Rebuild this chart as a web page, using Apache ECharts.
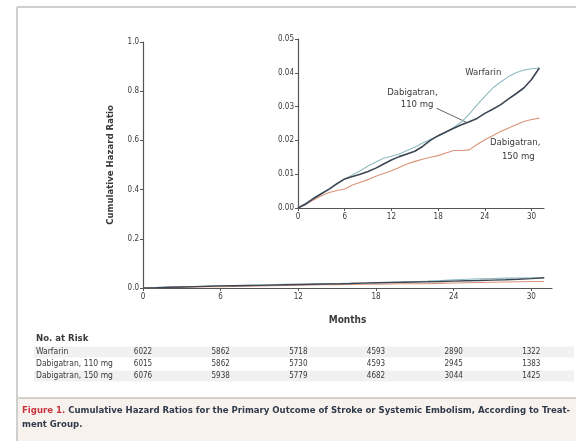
<!DOCTYPE html>
<html>
<head>
<meta charset="utf-8">
<script src="https://cdn.jsdelivr.net/npm/echarts@6/dist/echarts.min.js"></script>
<style>
  html, body { margin: 0; padding: 0; background: #ffffff; }
  #chart { width: 576px; height: 441px; }
</style>
</head>
<body>
<div id="chart"></div>
<script>
// Follow-up month for each reading
const months = [0, 1, 2, 3, 4, 5, 6, 7, 8, 9, 10, 11, 12, 13, 14, 15, 16, 17, 18, 19, 20, 21, 22, 23, 24, 25, 26, 27, 28, 29, 30, 31];

// Cumulative hazard by treatment group
const warfarin = [0, 0.0014, 0.0030, 0.0043, 0.0056, 0.0070, 0.0086, 0.0098, 0.0110, 0.0124, 0.0136, 0.0147, 0.0153, 0.0160, 0.0170, 0.0180, 0.0192, 0.0203, 0.0212, 0.0225, 0.0238, 0.0255, 0.0278, 0.0305, 0.0330, 0.0355, 0.0372, 0.0388, 0.0400, 0.0408, 0.0412, 0.0414];
const dabi110 = [0, 0.0012, 0.0028, 0.0042, 0.0056, 0.0072, 0.0086, 0.0093, 0.0100, 0.0108, 0.0118, 0.0130, 0.0142, 0.0152, 0.0160, 0.0168, 0.0182, 0.0200, 0.0214, 0.0225, 0.0236, 0.0246, 0.0255, 0.0265, 0.0280, 0.0292, 0.0305, 0.0322, 0.0338, 0.0355, 0.0380, 0.0414];
const dabi150 = [0, 0.0010, 0.0024, 0.0036, 0.0046, 0.0052, 0.0056, 0.0068, 0.0076, 0.0084, 0.0094, 0.0102, 0.0110, 0.0120, 0.0130, 0.0138, 0.0144, 0.0150, 0.0155, 0.0163, 0.0170, 0.0170, 0.0172, 0.0188, 0.0202, 0.0214, 0.0226, 0.0236, 0.0246, 0.0256, 0.0262, 0.0266];

// Number at risk table
const riskMonths = [0, 6, 12, 18, 24, 30];
const riskGroups = ['Warfarin', 'Dabigatran, 110 mg', 'Dabigatran, 150 mg'];
const riskCounts = [
  [6022, 5862, 5718, 4593, 2890, 1322],
  [6015, 5862, 5730, 4593, 2945, 1383],
  [6076, 5938, 5779, 4682, 3044, 1425]
];

// Axis ticks
const xTicks = [0, 6, 12, 18, 24, 30];

const FONT = '"Liberation Sans Narrow", "DejaVu Sans Condensed", "Liberation Sans", sans-serif';
const INK = '#3a3a3a';
const C_WAR = '#8fbcc0';
const C_110 = '#3d4654';
const C_150 = '#d99478';

function pairs(ys) { return months.map((m, i) => [m, ys[i]]); }

const chart = echarts.init(document.getElementById('chart'), null, { renderer: 'canvas' });

function axisX(gridIndex) {
  return {
    type: 'value', gridIndex, min: 0, max: 31.6, interval: 6,
    axisLine: { show: true, lineStyle: { color: '#555', width: 1.2 } },
    axisTick: { show: true, length: 3, lineStyle: { color: '#555' }, customValues: xTicks },
    axisLabel: { color: INK, fontSize: 8, fontFamily: FONT, margin: 5, customValues: xTicks },
    splitLine: { show: false }
  };
}

const lineBase = (name, data, color, width, xi) => ({
  name, type: 'line', xAxisIndex: xi, yAxisIndex: xi, data: pairs(data),
  showSymbol: false, symbol: 'none', silent: true,
  lineStyle: { color, width }, z: 3
});

const option = {
  animation: false,
  backgroundColor: '#ffffff',
  grid: [
    { left: 143, top: 42, width: 409, height: 246, containLabel: false },
    { left: 298, top: 39, width: 246, height: 169, containLabel: false }
  ],
  xAxis: [axisX(0), axisX(1)],
  yAxis: [
    {
      type: 'value', gridIndex: 0, min: 0, max: 1, interval: 0.2,
      name: 'Cumulative Hazard Ratio', nameLocation: 'middle', nameGap: 27,
      nameTextStyle: { color: INK, fontSize: 9.5, fontWeight: 'bold', fontFamily: FONT },
      axisLine: { show: true, lineStyle: { color: '#555', width: 1.2 } },
      axisTick: { show: true, length: 3, lineStyle: { color: '#555' } },
      axisLabel: { color: INK, fontSize: 8, fontFamily: FONT, margin: 4,
        formatter: v => v.toFixed(1) },
      splitLine: { show: false }
    },
    {
      type: 'value', gridIndex: 1, min: 0, max: 0.05, interval: 0.01,
      axisLine: { show: true, lineStyle: { color: '#555', width: 1.2 } },
      axisTick: { show: true, length: 3, lineStyle: { color: '#555' } },
      axisLabel: { color: INK, fontSize: 8, fontFamily: FONT, margin: 4,
        formatter: v => v.toFixed(2) },
      splitLine: { show: false }
    }
  ],
  series: [
    lineBase('Warfarin', warfarin, C_WAR, 1.1, 0),
    lineBase('Dabigatran, 150 mg', dabi150, C_150, 1.1, 0),
    lineBase('Dabigatran, 110 mg', dabi110, C_110, 1.4, 0),
    lineBase('Warfarin', warfarin, C_WAR, 1.1, 1),
    lineBase('Dabigatran, 150 mg', dabi150, C_150, 1.1, 1),
    lineBase('Dabigatran, 110 mg', dabi110, C_110, 1.6, 1)
  ]
};
chart.setOption(option);

// Annotations, table and caption placed through the chart's own coordinate systems
const inset = (x, y) => chart.convertToPixel({ gridIndex: 1 }, [x, y]);
const mainX = m => chart.convertToPixel({ xAxisIndex: 0 }, m);

function txt(x, y, text, opts) {
  return {
    type: 'text', x, y, silent: true,
    style: Object.assign({ text, fill: INK, fontSize: 9, fontFamily: FONT,
      textAlign: 'center', textVerticalAlign: 'middle' }, opts || {})
  };
}

const g = [];
// frame
g.push({ type: 'line', shape: { x1: 17, y1: 7, x2: 576, y2: 7 }, style: { stroke: '#cfcfcf', lineWidth: 2 } });
g.push({ type: 'line', shape: { x1: 17, y1: 7, x2: 17, y2: 441 }, style: { stroke: '#cfcfcf', lineWidth: 2 } });
// caption panel
g.push({ type: 'rect', shape: { x: 18, y: 398, width: 558, height: 43 }, style: { fill: '#f8f2ee' } });
g.push({ type: 'line', shape: { x1: 18, y1: 398, x2: 576, y2: 398 }, style: { stroke: '#c9c4c0', lineWidth: 1.5 } });

// inset labels
let p = inset(23.8, 0.0402); g.push(txt(p[0], p[1], 'Warfarin', { fontSize: 9.5 }));
p = inset(14.7, 0.0343); g.push(txt(p[0], p[1], 'Dabigatran,', { fontSize: 9.5 }));
p = inset(15.3, 0.0305); g.push(txt(p[0], p[1], '110 mg', { fontSize: 9.5 }));
let a = inset(17.8, 0.0295), b = inset(21.6, 0.0254);
g.push({ type: 'line', shape: { x1: a[0], y1: a[1], x2: b[0], y2: b[1] }, style: { stroke: '#555', lineWidth: 0.9 } });
p = inset(27.9, 0.0195); g.push(txt(p[0], p[1], 'Dabigatran,', { fontSize: 9.5 }));
p = inset(28.3, 0.0151); g.push(txt(p[0], p[1], '150 mg', { fontSize: 9.5 }));

// x axis title
g.push(txt(mainX(15.8), 320, 'Months', { fontWeight: 'bold', fontSize: 10 }));

// number at risk
const rowY = [352, 364, 376];
g.push(txt(36, 339, 'No. at Risk', { textAlign: 'left', fontWeight: 'bold', fontSize: 9.5 }));
rowY.forEach((y, r) => {
  if (r !== 1) g.push({ type: 'rect', shape: { x: 34, y: y - 5.5, width: 540, height: 11 }, style: { fill: '#f1f1f1' }, z: -1 });
});
riskGroups.forEach((name, r) => {
  g.push(txt(36, rowY[r], name, { textAlign: 'left', fontSize: 8.5 }));
  riskMonths.forEach((m, c) => {
    g.push(txt(mainX(m), rowY[r], String(riskCounts[r][c]), { fontSize: 8 }));
  });
});

// caption
g.push({
  type: 'text', x: 22, y: 411, silent: true,
  style: {
    text: '{r|Figure 1.} Cumulative Hazard Ratios for the Primary Outcome of Stroke or Systemic Embolism, According to Treat-',
    fill: '#2f3a4a', fontSize: 9.5, fontFamily: FONT, fontWeight: 'bold', textVerticalAlign: 'middle',
    rich: { r: { fill: '#c8323c', fontSize: 9.5, fontFamily: FONT, fontWeight: 'bold' } }
  }
});
g.push(txt(22, 425, 'ment Group.', { textAlign: 'left', fill: '#2f3a4a', fontSize: 9.5, fontWeight: 'bold' }));

chart.setOption({ graphic: g });
</script>
</body>
</html>
